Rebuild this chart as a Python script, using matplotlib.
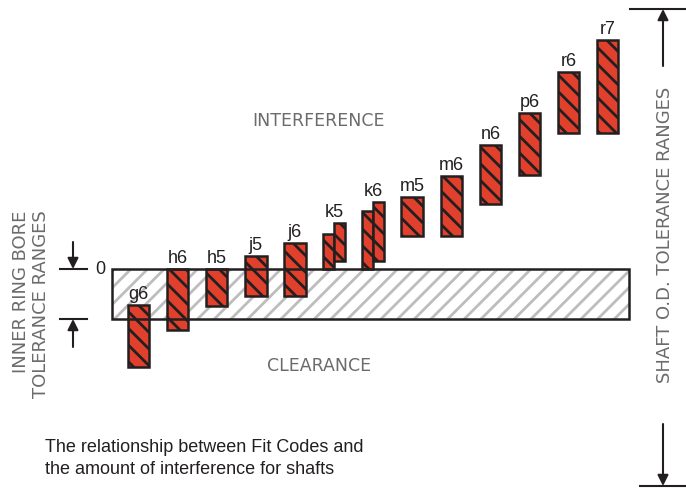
import matplotlib.pyplot as plt
from matplotlib.patches import Rectangle

# shaft fit codes and their tolerance range, relative to the bore zero line
# (positive = towards interference)
codes = ["g6", "h6", "h5", "j5", "j6", "k5", "k6", "m5", "m6", "n6", "p6", "r6", "r7"]
upper = [-36, 0, 0, 13, 26, 35, 58, 72, 93, 124, 156, 197, 229]
lower = [-98, -61, -37, -27, -27, 0, 0, 33, 33, 65, 94, 136, 136]

# k5 and k6 show a second, narrower range next to the first one
split_codes = ["k5", "k6"]
upper_2 = [46, 67]
lower_2 = [8, 8]

# inner ring bore tolerance band
bore_upper = 0
bore_lower = -50

RED = "#e1402c"
INK = "#231f20"
GREY_TXT = "#6b6b6b"

plt.rcParams["hatch.linewidth"] = 2.0

W, H = 686, 489
fig = plt.figure(figsize=(W / 100, H / 100), dpi=100)

# data axes: one unit on x per fit code, y in tolerance units
ax = fig.add_axes([0, 0, 1, 1])
step = 39.1
x0 = 138.5
ax.set_xlim(-x0 / step, (W - x0) / step)
ax.set_ylim(-219, 270)
ax.axis("off")

# overlay in pixel coords for the side arrows and texts
ov = fig.add_axes([0, 0, 1, 1], facecolor="none")
ov.set_xlim(0, W)
ov.set_ylim(H, 0)
ov.axis("off")

n = len(codes)
bw = 0.55

# bore band
band_l = -0.68
band_r = n - 1 + 0.545
ax.add_patch(Rectangle((band_l, bore_lower), band_r - band_l, bore_upper - bore_lower,
                       facecolor="white", edgecolor="#bdbdbd", hatch="//", linewidth=0, zorder=1))
ax.add_patch(Rectangle((band_l, bore_lower), band_r - band_l, bore_upper - bore_lower,
                       facecolor="none", edgecolor=INK, linewidth=1.8, zorder=4))

bar_kw = dict(color=RED, edgecolor=INK, hatch="\\\\", linewidth=1.8, zorder=3)
for i, code in enumerate(codes):
    top = upper[i]
    if code in split_codes:
        j = split_codes.index(code)
        ax.bar(i - bw / 4, upper[i] - lower[i], bottom=lower[i], width=bw / 2, **bar_kw)
        ax.bar(i + bw / 4, upper_2[j] - lower_2[j], bottom=lower_2[j], width=bw / 2, **bar_kw)
        top = max(top, upper_2[j])
    else:
        ax.bar(i, upper[i] - lower[i], bottom=lower[i], width=bw, **bar_kw)
    ax.text(i, top + 7, code, ha="center", va="baseline", fontsize=13,
            family="Liberation Sans", color=INK, zorder=5)

ax.text(band_l - 0.3, bore_upper, "0", ha="center", va="center", fontsize=13,
        family="Liberation Sans", color=INK)

# region labels
ov.text(319, 121, "INTERFERENCE", ha="center", va="center", fontsize=12.5, color=GREY_TXT)
ov.text(319, 366, "CLEARANCE", ha="center", va="center", fontsize=12.5, color=GREY_TXT)

# left: inner ring bore tolerance
ov.text(21, 292, "INNER RING BORE", rotation=90, ha="center", va="center",
        fontsize=13, color=GREY_TXT)
ov.text(41, 304, "TOLERANCE RANGES", rotation=90, ha="center", va="center",
        fontsize=13, color=GREY_TXT)
arr = dict(arrowstyle="-|>", color=INK, lw=1.5, mutation_scale=16, shrinkA=0, shrinkB=0)
ov.plot([60, 87], [270, 270], color=INK, lw=1.5)
ov.plot([60, 87], [320, 320], color=INK, lw=1.5)
ov.annotate("", xy=(73, 270), xytext=(73, 243), arrowprops=arr)
ov.annotate("", xy=(73, 320), xytext=(73, 348), arrowprops=arr)

# right: shaft tolerance
ov.text(665, 235, "SHAFT O.D. TOLERANCE RANGES", rotation=90, ha="center", va="center",
        fontsize=13, color=GREY_TXT)
ov.plot([630, 686], [10, 10], color=INK, lw=1.5)
ov.plot([640, 686], [487, 487], color=INK, lw=1.5)
ov.annotate("", xy=(663, 10), xytext=(663, 67), arrowprops=arr)
ov.annotate("", xy=(663, 487), xytext=(663, 425), arrowprops=arr)

# caption
ov.text(45, 447, "The relationship between Fit Codes and", ha="left", va="center",
        fontsize=13, family="Liberation Sans", color=INK)
ov.text(45, 470, "the amount of interference for shafts", ha="left", va="center",
        fontsize=13, family="Liberation Sans", color=INK)

fig.savefig("out.png", dpi=100)
